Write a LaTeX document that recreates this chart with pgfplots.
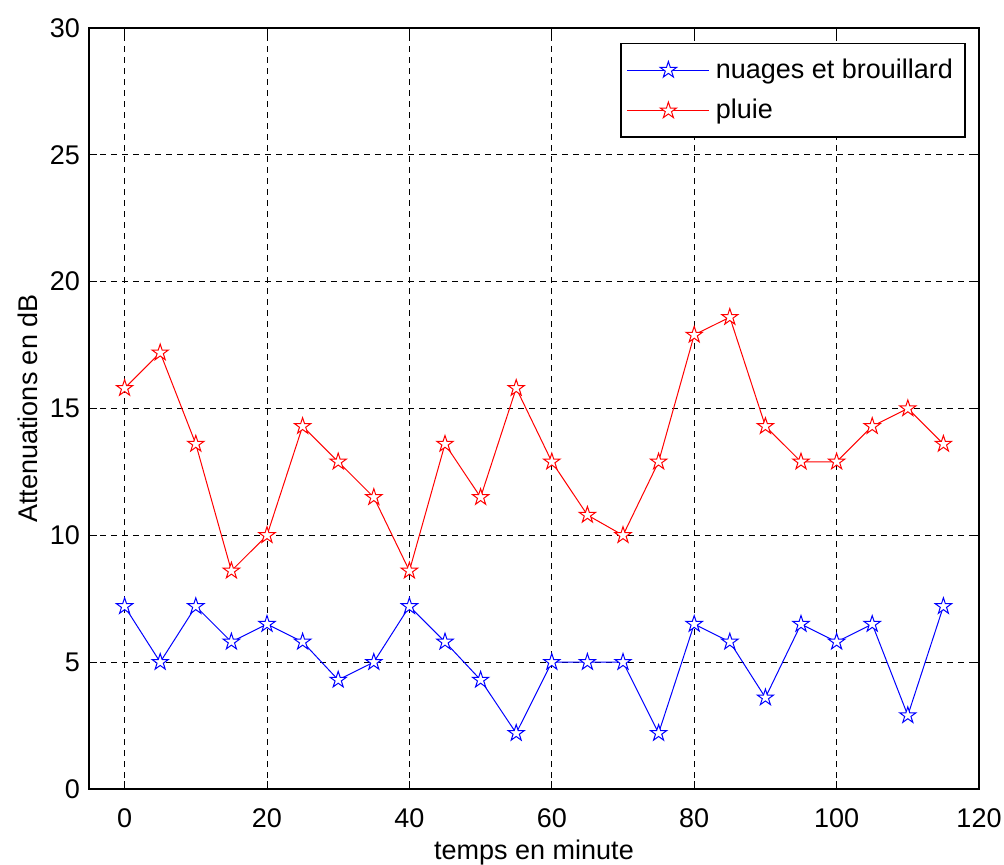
\documentclass[border=0pt]{standalone}
\usepackage{fontspec}
\setmainfont{Liberation Sans}
\usepackage{pgfplots}
\pgfplotsset{compat=1.18}
\pgfdeclareplotmark{pentagram}{%
  \pgfpathmoveto{\pgfpointpolar{90}{\pgfplotmarksize}}%
  \pgfpathlineto{\pgfpointpolar{126}{0.382\pgfplotmarksize}}%
  \pgfpathlineto{\pgfpointpolar{162}{\pgfplotmarksize}}%
  \pgfpathlineto{\pgfpointpolar{198}{0.382\pgfplotmarksize}}%
  \pgfpathlineto{\pgfpointpolar{234}{\pgfplotmarksize}}%
  \pgfpathlineto{\pgfpointpolar{270}{0.382\pgfplotmarksize}}%
  \pgfpathlineto{\pgfpointpolar{306}{\pgfplotmarksize}}%
  \pgfpathlineto{\pgfpointpolar{342}{0.382\pgfplotmarksize}}%
  \pgfpathlineto{\pgfpointpolar{18}{\pgfplotmarksize}}%
  \pgfpathlineto{\pgfpointpolar{54}{0.382\pgfplotmarksize}}%
  \pgfpathclose
  \pgfusepathqfillstroke
}
\pgfplotstableread{
x nuages pluie
0 7.2 15.8
5 5.0 17.2
10 7.2 13.6
15 5.8 8.6
20 6.5 10.0
25 5.8 14.3
30 4.3 12.9
35 5.0 11.5
40 7.2 8.6
45 5.8 13.6
50 4.3 11.5
55 2.2 15.8
60 5.0 12.9
65 5.0 10.8
70 5.0 10.0
75 2.2 12.9
80 6.5 17.9
85 5.8 18.6
90 3.6 14.3
95 6.5 12.9
100 5.8 12.9
105 6.5 14.3
110 2.9 15.0
115 7.2 13.6
}\datatable
\begin{document}
\begin{tikzpicture}
\useasboundingbox (-44.5pt,-38pt) rectangle (457.5pt,394.5pt);
\begin{axis}[
  at={(0pt,0pt)}, anchor=south west,
  width=445pt, height=380.5pt, scale only axis,
  xmin=-5, xmax=120, ymin=0, ymax=30,
  xtick={0,20,...,120}, ytick={0,5,...,30},
  font=\fontsize{13.5}{16}\selectfont,
  /pgf/number format/assume math mode=true,
  tick align=inside, tick pos=both,
  major tick length=4pt,
  axis line style={black, line width=0.6pt},
  every tick/.style={black, line width=0.5pt},
  grid=major,
  major grid style={black, line width=0.45pt, dash pattern=on 3pt off 2.5pt},
  xticklabel style={yshift=-6.5pt},
  yticklabel style={xshift=-1pt},
  xlabel={temps en minute},
  ylabel={Attenuations en dB},
  xlabel style={yshift=1pt},
  ylabel style={yshift=-1pt},
  legend style={at={(0.985,0.980)}, anchor=north east, draw=black, line width=0.6pt,
    font=\fontsize{13.5}{16}\selectfont, row sep=5pt, inner xsep=3pt, inner ysep=5.5pt,
    cells={anchor=west}, nodes={inner xsep=3pt}},
  legend image code/.code={\draw[mark repeat=2,mark phase=2,#1] plot coordinates {(2pt,0pt) (22.5pt,0pt) (43pt,0pt)};},
]
\addplot[blue, line width=0.5pt, mark=pentagram, mark size=4.3pt, mark options={fill=white, line width=0.5pt}] table[x=x, y=nuages] {\datatable};
\addlegendentry{nuages et brouillard}
\addplot[red, line width=0.5pt, mark=pentagram, mark size=4.3pt, mark options={fill=white, line width=0.5pt}] table[x=x, y=pluie] {\datatable};
\addlegendentry{pluie}
\end{axis}
\end{tikzpicture}
\end{document}
